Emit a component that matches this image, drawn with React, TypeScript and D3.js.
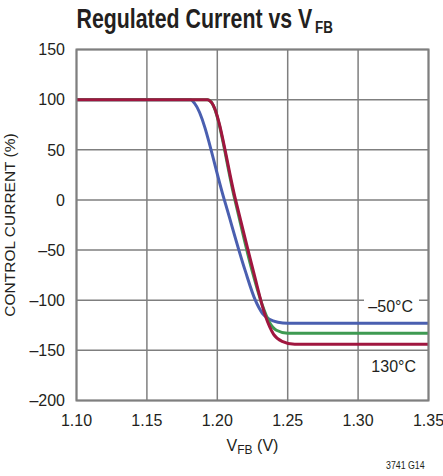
import React from "react";
import * as d3 from "d3";

const xTicks = [1.1, 1.15, 1.2, 1.25, 1.3, 1.35];
const yTicks = [150, 100, 50, 0, -50, -100, -150, -200];

const blueV = [1.1, 1.181, 1.184, 1.205, 1.2197, 1.227, 1.232, 1.237, 1.243, 1.25, 1.35];
const blueI = [100, 100, 96, 0, -70, -100, -113, -119, -122, -123, -123];
const greenV = [1.1, 1.193, 1.1955, 1.2125, 1.225, 1.232, 1.237, 1.242, 1.25, 1.35];
const greenI = [100, 100, 98, 0, -72, -105, -122, -130, -133, -133];
const redV = [1.1, 1.193, 1.196, 1.213, 1.2258, 1.234, 1.24, 1.246, 1.255, 1.35];
const redI = [100, 100, 97, 0, -72, -115, -134, -141, -144, -144];

const series = [
  { name: "-50°C", v: blueV, i: blueI, color: "#4a5fb0" },
  { name: "25°C", v: greenV, i: greenI, color: "#3e9a52" },
  { name: "130°C", v: redV, i: redI, color: "#a0163f" },
];

const L = 76.5, R = 428.5, T = 49.5, B = 400.5;
const FONT = "'Liberation Sans', Arial, sans-serif";
const SQ = 0.79;

export default function App() {
  const x = d3.scaleLinear().domain([1.1, 1.35]).range([L, R]);
  const y = d3.scaleLinear().domain([-200, 150]).range([B, T]);
  const line = d3
    .line<[number, number]>()
    .x((d) => x(d[0]))
    .y((d) => y(d[1]))
    .curve(d3.curveMonotoneX);
  const grid = "#7f7f7f";
  return (
    <svg
      width={443}
      height={476}
      style={{ position: "absolute", left: 0, top: 0, background: "#fff" }}
    >
      <g transform={`translate(${L},27.5) scale(${SQ},1)`}>
        <text x={0} y={0} fontFamily={FONT} fontWeight="bold" fontSize={27} fill="#231f20">
          Regulated Current vs V
        </text>
        <text x={(315 - L) / SQ} y={5.5} fontFamily={FONT} fontWeight="bold" fontSize={17} fill="#231f20">
          FB
        </text>
      </g>
      {xTicks.map((t) => (
        <line key={"gx" + t} x1={x(t)} x2={x(t)} y1={T} y2={B} stroke={grid} strokeWidth={1.5} />
      ))}
      {yTicks.map((t) => (
        <line key={"gy" + t} x1={L} x2={R} y1={y(t)} y2={y(t)} stroke={grid} strokeWidth={1.5} />
      ))}
      <rect x={364} y={296} width={55} height={20} fill="#fff" />
      {series.map((s) => (
        <path
          key={s.name}
          d={line(s.v.map((v, k) => [v, s.i[k]] as [number, number])) || ""}
          fill="none"
          stroke={s.color}
          strokeWidth={3}
          strokeLinejoin="round"
        />
      ))}
      <rect x={L} y={T} width={R - L} height={B - T} fill="none" stroke={grid} strokeWidth={2} />
      {yTicks.map((t) => (
        <text key={"ty" + t} x={65} y={y(t)} dy="0.36em" textAnchor="end" fontFamily={FONT} fontSize={16} fill="#231f20">
          {t < 0 ? "\u2013" + Math.abs(t) : t}
        </text>
      ))}
      {xTicks.map((t) => (
        <text key={"tx" + t} x={x(t)} y={426} textAnchor="middle" fontFamily={FONT} fontSize={16} fill="#231f20">
          {t.toFixed(2)}
        </text>
      ))}
      <text x={(L + R) / 2} y={451} textAnchor="middle" fontFamily={FONT} fontSize={16} fill="#231f20">
        V<tspan fontSize={12} dy={3}>FB</tspan>
        <tspan dy={-3}> (V)</tspan>
      </text>
      <text
        transform={`translate(15,${(T + B) / 2}) rotate(-90)`}
        textAnchor="middle"
        fontFamily={FONT}
        fontSize={15.5}
        fill="#231f20"
      >
        CONTROL CURRENT (%)
      </text>
      <text x={413} y={312} textAnchor="end" fontFamily={FONT} fontSize={16} fill="#231f20">
        {"\u201350°C"}
      </text>
      <text x={416} y={372} textAnchor="end" fontFamily={FONT} fontSize={16} fill="#231f20">
        130°C
      </text>
      <g transform={`translate(386,469) scale(0.8,1)`}>
        <text x={0} y={0} fontFamily={FONT} fontSize={11} fill="#231f20">
          3741 G14
        </text>
      </g>
    </svg>
  );
}
